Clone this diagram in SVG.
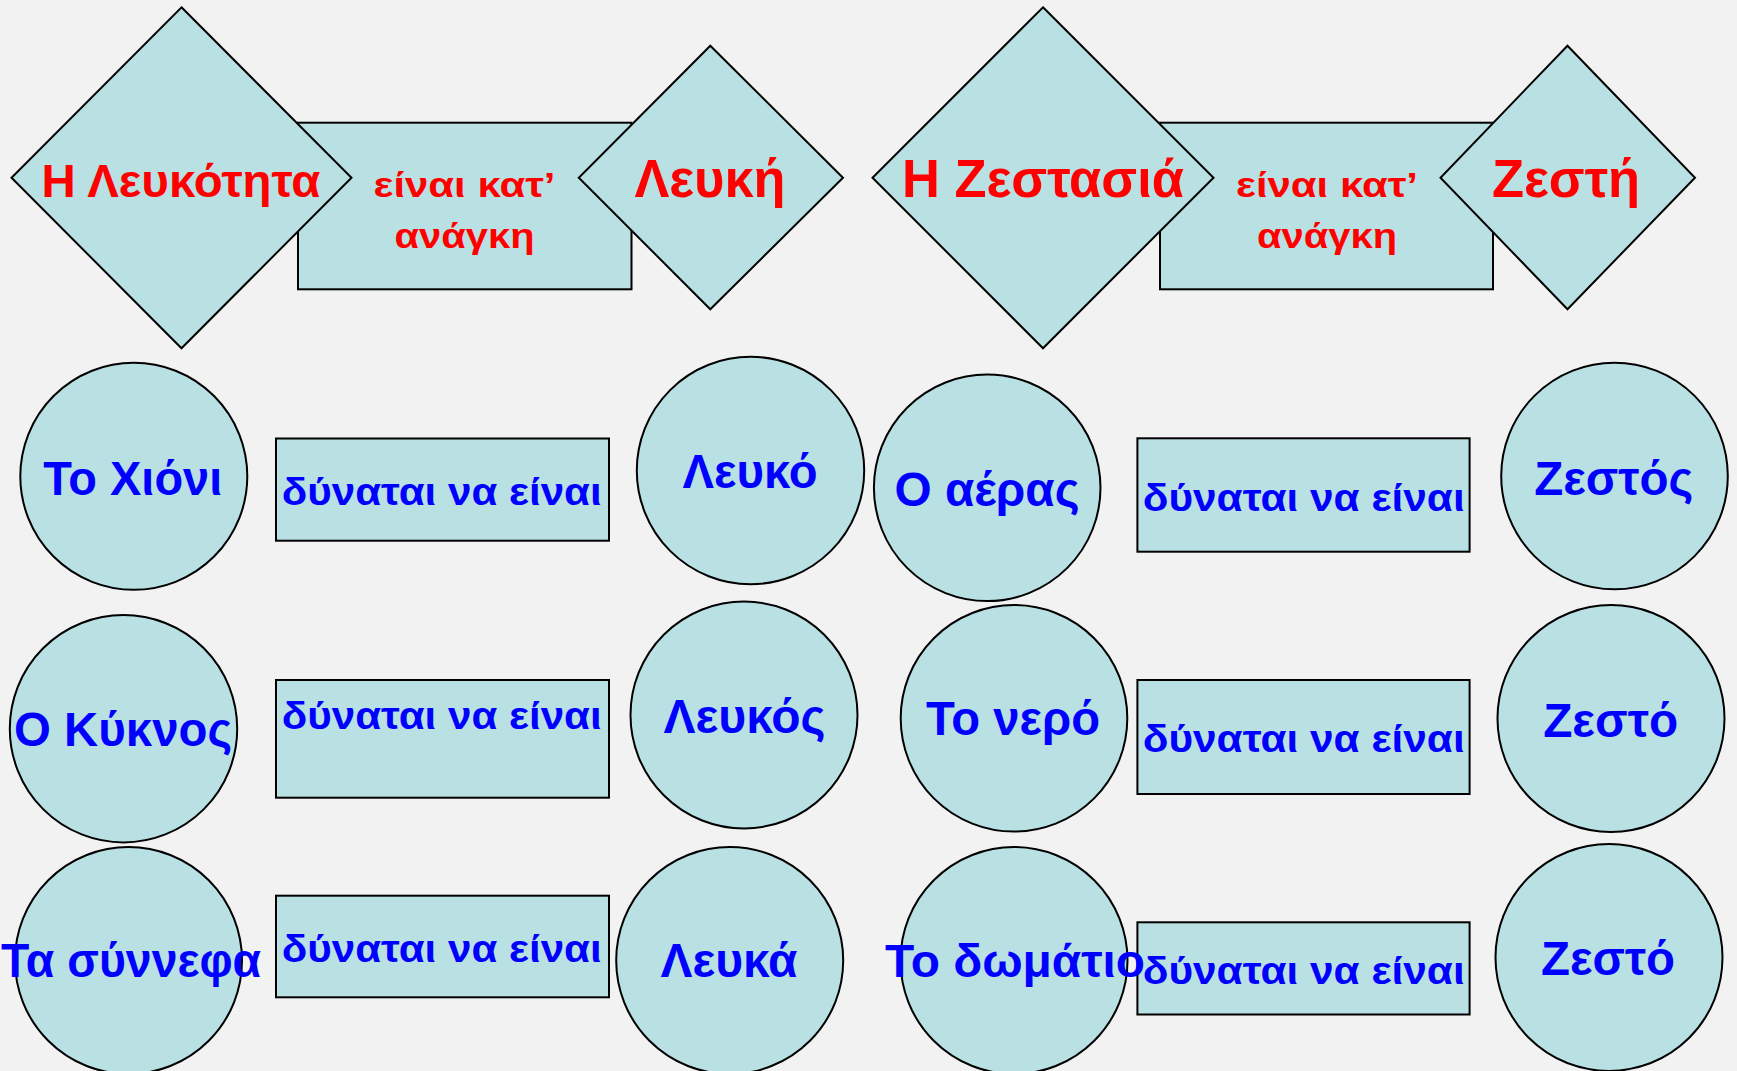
<svg xmlns="http://www.w3.org/2000/svg" width="1737" height="1071" viewBox="0 0 1737 1071">
<style>
.sh{fill:#b9e0e3;stroke:#000;stroke-width:2}
.t{font-family:"Liberation Sans",Arial,"DejaVu Sans",sans-serif;font-weight:bold;text-anchor:middle}
.r{fill:#ff0000}
.b{fill:#0000ff}
</style>
<rect width="1737" height="1071" fill="#f2f2f2"/>
<g id="connectors"/>
<g id="rel-left">
<rect class="sh" x="298" y="122.7" width="333.5" height="166.6"/>
<text class="t r" x="464.5" y="196.7" font-size="35" textLength="182" lengthAdjust="spacingAndGlyphs">είναι κατ’</text>
<text class="t r" x="464.5" y="248.3" font-size="35" textLength="140" lengthAdjust="spacingAndGlyphs">ανάγκη</text>
</g>
<g id="leukotita">
<polygon class="sh" points="181.5,7.3 351.5,177.7 181.5,348.3 11.5,177.7"/>
<text class="t r" x="181" y="197" font-size="47" textLength="279" lengthAdjust="spacingAndGlyphs">Η Λευκότητα</text>
</g>
<g id="leuki">
<polygon class="sh" points="710.3,45.7 843,177.7 710.3,309.3 578.8,177.7"/>
<text class="t r" x="710" y="197" font-size="53" textLength="151" lengthAdjust="spacingAndGlyphs">Λευκή</text>
</g>
<g id="rel-right">
<rect class="sh" x="1160" y="122.7" width="333" height="166.6"/>
<text class="t r" x="1327" y="196.7" font-size="35" textLength="182" lengthAdjust="spacingAndGlyphs">είναι κατ’</text>
<text class="t r" x="1327" y="248.3" font-size="35" textLength="140" lengthAdjust="spacingAndGlyphs">ανάγκη</text>
</g>
<g id="zestasia">
<polygon class="sh" points="1043,7.3 1213.5,177.7 1043,348.3 872.5,177.7"/>
<text class="t r" x="1043" y="197" font-size="53" textLength="282" lengthAdjust="spacingAndGlyphs">Η Ζεστασιά</text>
</g>
<g id="zesti">
<polygon class="sh" points="1567.5,45.7 1695,177.7 1567.5,309.3 1440.5,177.7"/>
<text class="t r" x="1566" y="197" font-size="53" textLength="148" lengthAdjust="spacingAndGlyphs">Ζεστή</text>
</g>
<g id="box-l1">
<rect class="sh" x="276" y="438.5" width="333" height="102.2"/>
<text class="t b" x="441.7" y="505.3" font-size="38" textLength="320" lengthAdjust="spacingAndGlyphs">δύναται να είναι</text>
</g>
<g id="box-l2">
<rect class="sh" x="276" y="680" width="333" height="117.7"/>
<text class="t b" x="441.7" y="729" font-size="38" textLength="320" lengthAdjust="spacingAndGlyphs">δύναται να είναι</text>
</g>
<g id="box-l3">
<rect class="sh" x="276" y="895.7" width="333" height="101.6"/>
<text class="t b" x="441.7" y="962.3" font-size="38" textLength="320" lengthAdjust="spacingAndGlyphs">δύναται να είναι</text>
</g>
<g id="box-r1">
<rect class="sh" x="1137.4" y="438.3" width="332.2" height="113.4"/>
<text class="t b" x="1303.7" y="510.7" font-size="38" textLength="322" lengthAdjust="spacingAndGlyphs">δύναται να είναι</text>
</g>
<g id="box-r2">
<rect class="sh" x="1137.4" y="680" width="332.2" height="114"/>
<text class="t b" x="1303.7" y="752.3" font-size="38" textLength="322" lengthAdjust="spacingAndGlyphs">δύναται να είναι</text>
</g>
<g id="box-r3">
<rect class="sh" x="1137.4" y="922.3" width="332.2" height="92.2"/>
<text class="t b" x="1303.7" y="984.3" font-size="38" textLength="322" lengthAdjust="spacingAndGlyphs">δύναται να είναι</text>
</g>
<g id="xioni">
<circle class="sh" cx="133.8" cy="476.3" r="113.5"/>
<text class="t b" x="132.7" y="495" font-size="48" textLength="179" lengthAdjust="spacingAndGlyphs">Το Χιόνι</text>
</g>
<g id="leuko">
<circle class="sh" cx="750.5" cy="470.5" r="113.7"/>
<text class="t b" x="750" y="488.3" font-size="48" textLength="135" lengthAdjust="spacingAndGlyphs">Λευκό</text>
</g>
<g id="kyknos">
<circle class="sh" cx="123.5" cy="728.7" r="113.7"/>
<text class="t b" x="123" y="746" font-size="48" textLength="218" lengthAdjust="spacingAndGlyphs">Ο Κύκνος</text>
</g>
<g id="leukos">
<circle class="sh" cx="744" cy="715" r="113.5"/>
<text class="t b" x="744.5" y="733.3" font-size="48" textLength="162" lengthAdjust="spacingAndGlyphs">Λευκός</text>
</g>
<g id="synnefa">
<circle class="sh" cx="128.5" cy="960.5" r="113.5"/>
<text class="t b" x="131" y="976.7" font-size="48" textLength="260" lengthAdjust="spacingAndGlyphs">Τα σύννεφα</text>
</g>
<g id="leuka">
<circle class="sh" cx="729.7" cy="960.5" r="113.5"/>
<text class="t b" x="729" y="976.7" font-size="48" textLength="137" lengthAdjust="spacingAndGlyphs">Λευκά</text>
</g>
<g id="aeras">
<circle class="sh" cx="987.2" cy="487.8" r="113.3"/>
<text class="t b" x="987" y="506" font-size="48" textLength="185" lengthAdjust="spacingAndGlyphs">Ο αέρας</text>
</g>
<g id="zestos">
<circle class="sh" cx="1614.5" cy="476" r="113.3"/>
<text class="t b" x="1613.7" y="495" font-size="48" textLength="159" lengthAdjust="spacingAndGlyphs">Ζεστός</text>
</g>
<g id="nero">
<circle class="sh" cx="1014" cy="718.3" r="113.3"/>
<text class="t b" x="1013" y="735" font-size="48" textLength="174" lengthAdjust="spacingAndGlyphs">Το νερό</text>
</g>
<g id="zesto1">
<circle class="sh" cx="1611" cy="718.5" r="113.5"/>
<text class="t b" x="1610.7" y="736.7" font-size="48" textLength="135" lengthAdjust="spacingAndGlyphs">Ζεστό</text>
</g>
<g id="domatio">
<circle class="sh" cx="1014" cy="960.5" r="113.5"/>
<text class="t b" x="1015" y="976.7" font-size="47" textLength="260" lengthAdjust="spacingAndGlyphs">Το δωμάτιο</text>
</g>
<g id="zesto2">
<circle class="sh" cx="1609" cy="957.5" r="113.5"/>
<text class="t b" x="1608" y="975" font-size="48" textLength="134" lengthAdjust="spacingAndGlyphs">Ζεστό</text>
</g>
</svg>
